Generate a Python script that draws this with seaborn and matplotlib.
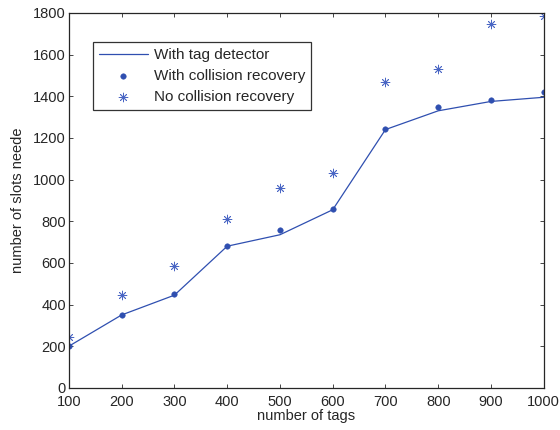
import numpy as np
import pandas as pd
import seaborn as sns
import matplotlib
matplotlib.use('Agg')
import matplotlib.pyplot as plt

tags = [100, 200, 300, 400, 500, 600, 700, 800, 900, 1000]
tag_detector = [200, 350, 445, 680, 735, 855, 1240, 1330, 1375, 1395]
collision_recovery = [200, 352, 450, 682, 757, 857, 1242, 1350, 1382, 1418]
no_recovery = [245, 446, 586, 811, 958, 1030, 1469, 1531, 1747, 1786]

sns.set_style('ticks')
plt.rcParams['font.family'] = ['Liberation Sans', 'DejaVu Sans']
blue = '#2f4fb0'
fs = 10.5

df = pd.DataFrame({'tags': tags, 'det': tag_detector,
                   'rec': collision_recovery, 'norec': no_recovery})

fig = plt.figure(figsize=(5.6, 4.3), dpi=100)
ax = fig.add_axes([0.123, 0.098, 0.848, 0.872])
sns.lineplot(data=df, x='tags', y='det', ax=ax, color=blue, lw=0.9,
             label='With tag detector')
sns.scatterplot(data=df, x='tags', y='rec', ax=ax, color=blue, s=16,
                edgecolor=blue, marker='o', label='With collision recovery')
sns.scatterplot(data=df, x='tags', y='norec', ax=ax, color='#4a66c4', s=40,
                marker=(8, 2, 0), linewidth=0.6, label='No collision recovery')

ax.set_xlim(100, 1000)
ax.set_ylim(0, 1800)
ax.set_xticks(tags)
ax.set_yticks(range(0, 1801, 200))
ax.set_xlabel('number of tags', fontsize=fs, labelpad=0)
ax.set_ylabel('number of slots neede', fontsize=fs, labelpad=6)
ax.tick_params(direction='in', length=3, width=0.6, labelsize=fs,
               top=True, right=True, pad=2)
ax.tick_params(axis='x', pad=5.5)
for s in ax.spines.values():
    s.set_linewidth(0.9)
    s.set_visible(True)

leg = ax.legend(loc='upper left', bbox_to_anchor=(0.05, 0.923), fontsize=11,
                frameon=True, fancybox=False, edgecolor='black',
                borderpad=0.4, labelspacing=0.45, handlelength=3.2,
                handletextpad=0.4, borderaxespad=0)
leg.get_frame().set_linewidth(0.9)

fig.savefig('out.png', dpi=100)
